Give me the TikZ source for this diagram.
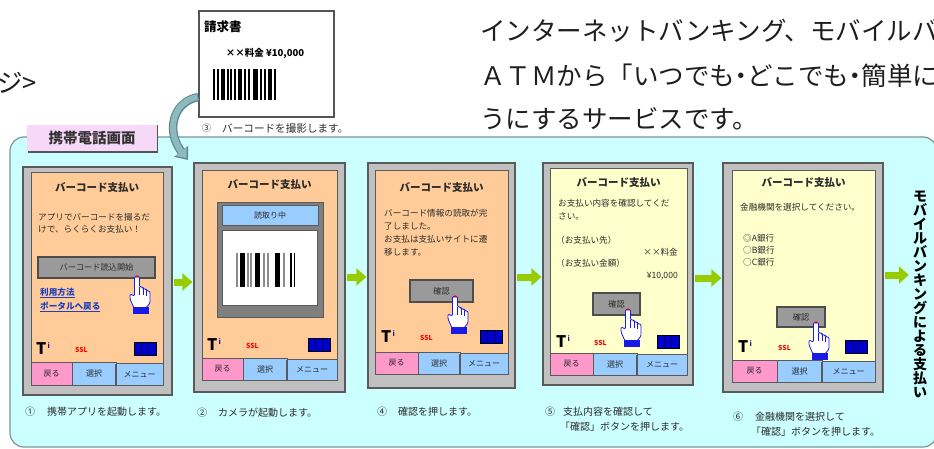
\documentclass[tikz,border=0pt]{standalone}
\usepackage{fontspec}
\setmainfont{Noto Sans CJK JP}
\newfontfamily\jphalf[RawFeature=+halt]{Noto Sans CJK JP}
\usetikzlibrary{arrows.meta,fit}

\definecolor{panelfill}{HTML}{CCFFFF}
\definecolor{panelline}{HTML}{7A9494}
\definecolor{tabfill}{HTML}{F8D8F8}
\definecolor{tabshadow}{HTML}{555555}
\definecolor{peach}{HTML}{FFCC99}
\definecolor{cream}{HTML}{FFFFCC}
\definecolor{framegray}{HTML}{C0C0C0}
\definecolor{framedark}{HTML}{5A5A5A}
\definecolor{pinkkey}{HTML}{FF99CC}
\definecolor{bluekey}{HTML}{99CCFF}
\definecolor{btngray}{HTML}{9A9A9A}
\definecolor{btnedge}{HTML}{4D4D4D}
\definecolor{arrowgreen}{HTML}{99CC00}
\definecolor{curvefill}{HTML}{8CBABF}
\definecolor{curvedark}{HTML}{5E8A8F}
\definecolor{linkblue}{HTML}{1F3FBF}
\definecolor{battblue}{HTML}{0000CC}
\definecolor{battdiv}{HTML}{000070}
\definecolor{sslred}{HTML}{FF0000}
\definecolor{txt}{HTML}{2B2B2B}
\definecolor{camgray}{HTML}{7F7F7F}
\definecolor{handblue}{HTML}{1A1AE6}
\definecolor{tiblue}{HTML}{1A1A8C}
\definecolor{introtext}{HTML}{1E1E1E}
\definecolor{boxline}{HTML}{555555}

\newcommand\fs[1]{\fontsize{#1}{#1}\selectfont}

\tikzset{
  intro/.style={font=\fs{25.5}, text=introtext, inner sep=0},
  frame/.style={draw=framedark, fill=framegray, line width=1.2pt, inner sep=0pt},
  scr/.style={draw=framedark, line width=0.7pt},
  keyline/.style={draw=framedark, line width=0.6pt},
  ttl/.style={font=\bfseries\fs{10.5}, text=txt, inner sep=0},
  body/.style={font=\fs{8.6}, text=txt, inner sep=0, anchor=west},
  link/.style={font=\bfseries\fs{8.6}, text=linkblue, inner sep=0, anchor=west},
  key/.style={font=\fs{8}, text=txt, inner sep=0},
  btntext/.style={font=\fs{8.2}, text=txt, inner sep=0},
  sbtn/.style={draw=btnedge, fill=btngray, line width=1.2pt, inner sep=0pt},
  captext/.style={font=\fs{10}, text=txt, inner sep=0, anchor=west},
  tiT/.style={font=\bfseries\fs{16}, text=black, inner sep=0, anchor=west},
  tii/.style={font=\bfseries\fs{7}, text=tiblue, inner sep=0, anchor=north west},
  ssl/.style={font=\bfseries\fs{6.8}, text=sslred, inner sep=0, anchor=west},
  batt/.style={draw=black, fill=battblue, line width=0.6pt},
  battline/.style={draw=battdiv, line width=1pt},
  garrow/.style={draw=arrowgreen, line width=7pt,
    -{Triangle[width=17pt,length=10pt]}, shorten <=1pt, shorten >=1pt},
  bar/.style={fill=black},
  graybar/.style={fill=black!45},
  hand/.pic={
    \filldraw[fill=white, draw=handblue, line width=0.8pt, rounded corners=1.2pt]
      (-2.5,17) -- (-2.5,0.5) -- (2.5,0.5) -- (2.5,11) -- (6,11) -- (6,13)
      -- (9.5,13) -- (9.5,15) -- (13,15) -- (13,27) -- (9,32) -- (-3,32)
      -- (-7,23) -- (-7,18) -- (-2.5,20) -- cycle;
    \draw[handblue, line width=0.6pt] (2.5,11) -- (2.5,19) (6,13) -- (6,19)
      (9.5,15) -- (9.5,20);
    \fill[handblue] (-4,31) rectangle (12,38);
    \fill[red] (0,0.5) circle (1.3pt);
  }
}

% status line of a handset: antenna mark, SSL mark, battery
\newcommand\status[5]{%
  \node[tiT] (#1T) at (#2,#5) {T};
  \node[tii] (#1i) at ([xshift=0.8pt]#1T.north east) {i};
  \node[ssl] (#1ssl) at (#3,#5+1) {SSL};
  \draw[batt] (#4,#5-6.5) rectangle (#4+22,#5+6.5);
  \draw[battline] (#4+7.3,#5-6.5) -- (#4+7.3,#5+6.5)
                  (#4+14.7,#5-6.5) -- (#4+14.7,#5+6.5);
}

% row of three soft keys
\newcommand\softkeys[7]{%
  \draw[keyline, fill=pinkkey] (#2,#6) rectangle (#3,#7);
  \draw[keyline, fill=bluekey] (#3,#6) rectangle (#4,#7);
  \draw[keyline, fill=bluekey] (#4,#6+1.5) rectangle (#5,#7);
  \draw[framedark, line width=1.2pt] (#4,#6+1.5) -- (#4,#7+1);
  \node[key] (#1back) at ({(#2+#3)/2},{(#6+#7)/2}) {戻る};
  \node[key] (#1sel) at ({(#3+#4)/2},{(#6+#7)/2}) {選択};
  \node[key] (#1menu) at ({(#4+#5)/2},{(#6+#7)/2+1}) {メニュー};
}

\begin{document}
\begin{tikzpicture}[x=1pt,y=-1pt]
\useasboundingbox (0,0) rectangle (934,449);
\clip (0,0) rectangle (934,449);
\fill[white] (0,0) rectangle (934,449);

% ---- introductory text ----
\node[intro, anchor=east] (l0) at (37,83) {ジ>};
\node[intro, anchor=west] (l1) at (480,31) {インターネットバンキング、モバイルバンキング};
\node[intro, anchor=west] (l2) at (480,76)
  {ＡＴＭから「いつでも{\jphalf ・}どこでも{\jphalf ・}簡単に」お支払い};
\node[intro, anchor=west] (l3) at (480,119) {うにするサービスです。};

% ---- invoice ----
\node[draw=boxline, fill=white, line width=1.3pt, inner sep=0pt,
      fit={(199,11)(334,117)}] (invoice) {};
\node[font=\bfseries\fs{12.5}, inner sep=0, anchor=west] (invtitle) at (204,27) {請求書};
\node[font=\bfseries\fs{9.5}, inner sep=0] (invamount) at (265,53) {××料金\ ¥10,000};
\foreach \o/\w in {0/1.5, 4/1.5, 8/4, 14/1.5, 17/1.5, 21/1.5, 25/4, 31/1.5,
                   35/1.5, 40/4.5, 47/1.5, 51/1.5, 55/4, 61/1.5}
  \fill[bar] (213+\o,69) rectangle (213+\o+\w,100);
\node[font=\fs{9}, text=txt, inner sep=0, anchor=west] (cap3n) at (202,128) {③};
\node[font=\fs{10.6}, text=txt, inner sep=0, anchor=west] (cap3t) at (222,128) {バーコードを撮影します。};

% ---- handset panel ----
\draw[draw=panelline, fill=panelfill, line width=1.2pt, rounded corners=14pt]
  (10,137) rectangle (937,447);
\fill[tabfill] (27,125) rectangle (157,151);
\draw[tabshadow, line width=1.5pt] (157.5,125) -- (157.5,152) -- (28,152);
\node[font=\bfseries\fs{14.5}, text=black!80, inner sep=0] (tab) at (92,138) {携帯電話画面};

% curved arrow from the invoice down to the camera screen
\coordinate (camtarget) at (188,160);
\draw[line width=8.5pt, draw=curvedark, -{Triangle[width=17pt,length=11pt]}]
  (invoice.west |- 0,97) .. controls (172,102) and (166,132) .. (camtarget);
\draw[line width=6pt, draw=curvefill, -{Triangle[width=13pt,length=8.5pt]}]
  ([xshift=-1pt]invoice.west |- 0,97) .. controls (172,102) and (166,132) .. (186.6,158.3);

% ---- handset 1 ----
\node[frame, fit={(23,167)(172,395)}] (ph1) {};
\draw[scr, fill=peach] (31,172) rectangle (163,385);
\node[ttl] (ph1title) at (97,188) {バーコード支払い};
\node[body] (ph1b1) at (38,217) {アプリでバーコードを撮るだ};
\node[body] (ph1b2) at (38,229) {けで、らくらくお支払い！};
\node[sbtn, fit={(38,257)(155,278)}] (ph1btn) {};
\node[btntext] (ph1btnlbl) at (ph1btn.center) {バーコード読込開始};
\node[link] (ph1lk1) at (40,293) {\underline{利用方法}};
\node[link] (ph1lk2) at (40,307) {\underline{ポータルへ戻る}};
\pic at (137,276) {hand};
\status{ph1}{36}{75}{134}{349}
\softkeys{ph1}{31}{72}{116}{163}{362}{385}

% ---- handset 2 ----
\node[frame, fit={(194,163)(345,392)}] (ph2) {};
\draw[scr, fill=peach] (202,170) rectangle (337,380);
\node[ttl] (ph2title) at (269.5,185) {バーコード支払い};
\draw[fill=camgray, draw=framedark, line width=0.8pt] (217,202) rectangle (323,317);
\draw[keyline, fill=bluekey] (222,205) rectangle (318,225);
\node[key] (ph2read) at (270,215) {読取り中};
\draw[keyline, fill=white] (222,230) rectangle (317,305);
\foreach \o/\w in {4/5, 19/5, 39/5, 54/2, 58/1}
  \fill[bar] (236+\o,253) rectangle (236+\o+\w,287);
\foreach \o/\w in {0/1.5, 11/1.5, 14/1.5, 27/1.5, 31/1.5, 47/1.5}
  \fill[graybar] (236+\o,253) rectangle (236+\o+\w,287);
\status{ph2}{207}{246}{308}{345}
\softkeys{ph2}{202}{243}{287}{337}{358}{380}

% ---- handset 3 ----
\node[frame, fit={(368,163)(515,388)}] (ph3) {};
\draw[scr, fill=peach] (375,170) rectangle (508,374);
\node[ttl] (ph3title) at (441.5,188) {バーコード支払い};
\node[body] (ph3b1) at (384,213) {バーコード情報の読取が完};
\node[body] (ph3b2) at (384,226) {了しました。};
\node[body] (ph3b3) at (384,239) {お支払は支払いサイトに遷};
\node[body] (ph3b4) at (384,252) {移します。};
\node[sbtn, fit={(410,280)(473,302)}] (ph3btn) {};
\node[btntext] (ph3btnlbl) at (ph3btn.center) {確認};
\pic at (455,296) {hand};
\status{ph3}{381}{420}{480}{337}
\softkeys{ph3}{375}{418}{460}{508}{352}{374}

% ---- handset 4 ----
\node[frame, fit={(543,163)(693,385)}] (ph4) {};
\draw[scr, fill=cream] (550,168) rectangle (687,375);
\node[ttl] (ph4title) at (618.5,183) {バーコード支払い};
\node[body] (ph4b1) at (558,203) {お支払い内容を確認してくだ};
\node[body] (ph4b2) at (558,216) {さい。};
\node[body] (ph4b3) at (556,240) {（お支払い先）};
\node[body, anchor=east] (ph4b4) at (678,252) {××料金};
\node[body] (ph4b5) at (556,263) {（お支払い金額）};
\node[body, anchor=east] (ph4b6) at (678,276) {¥10,000};
\node[sbtn, fit={(593,293)(640,315)}] (ph4btn) {};
\node[btntext] (ph4btnlbl) at (ph4btn.center) {確認};
\pic at (628,309) {hand};
\status{ph4}{556}{594}{657}{342}
\softkeys{ph4}{550}{593}{637}{687}{353}{375}

% ---- handset 5 ----
\node[frame, fit={(723,163)(883,392)}] (ph5) {};
\draw[scr, fill=cream] (732,170) rectangle (875,382);
\node[ttl] (ph5title) at (803.5,183) {バーコード支払い};
\node[body] (ph5b1) at (740,207) {金融機関を選択してください。};
\node[body] (ph5b2) at (743,238) {◎A銀行};
\node[body] (ph5b3) at (743,250) {○B銀行};
\node[body] (ph5b4) at (743,262) {○C銀行};
\node[sbtn, fit={(777,307)(825,327)}] (ph5btn) {};
\node[btntext] (ph5btnlbl) at (ph5btn.center) {確認};
\pic at (816,322) {hand};
\status{ph5}{738}{778}{845}{347}
\softkeys{ph5}{732}{777}{822}{875}{360}{382}

% ---- result label ----
\node[font=\bfseries\fs{14}, align=center, inner sep=0, text=black] (vtitle) at (920,294)
  {モ\\バ\\イ\\ル\\バ\\ン\\キ\\ン\\グ\\に\\よ\\る\\支\\払\\い};

% ---- step arrows ----
\draw[garrow] (ph1.east |- 0,282) -- (ph2.west |- 0,282);
\draw[garrow] (ph2.east |- 0,277) -- (ph3.west |- 0,277);
\draw[garrow] (ph3.east |- 0,277) -- (ph4.west |- 0,277);
\draw[garrow] (ph4.east |- 0,278) -- (ph5.west |- 0,278);
\draw[garrow, shorten >=4pt] (ph5.east |- 0,275) -- (vtitle.west |- 0,275);

% ---- step captions ----
\node[captext] (c1n) at (25,412) {①};
\node[captext] (c1t) at (47,412) {携帯アプリを起動します。};
\node[captext] (c2n) at (197,413) {②};
\node[captext] (c2t) at (218,413) {カメラが起動します。};
\node[captext] (c4n) at (377,412) {④};
\node[captext] (c4t) at (398,412) {確認を押します。};
\node[captext] (c5n) at (545,412) {⑤};
\node[captext] (c5t) at (563,412) {支払内容を確認して};
\node[captext] (c5u) at (560,427) {「確認」ボタンを押します。};
\node[captext] (c6n) at (733,417) {⑥};
\node[captext] (c6t) at (755,417) {金融機関を選択して};
\node[captext] (c6u) at (751,432) {「確認」ボタンを押します。};
\end{tikzpicture}
\end{document}
